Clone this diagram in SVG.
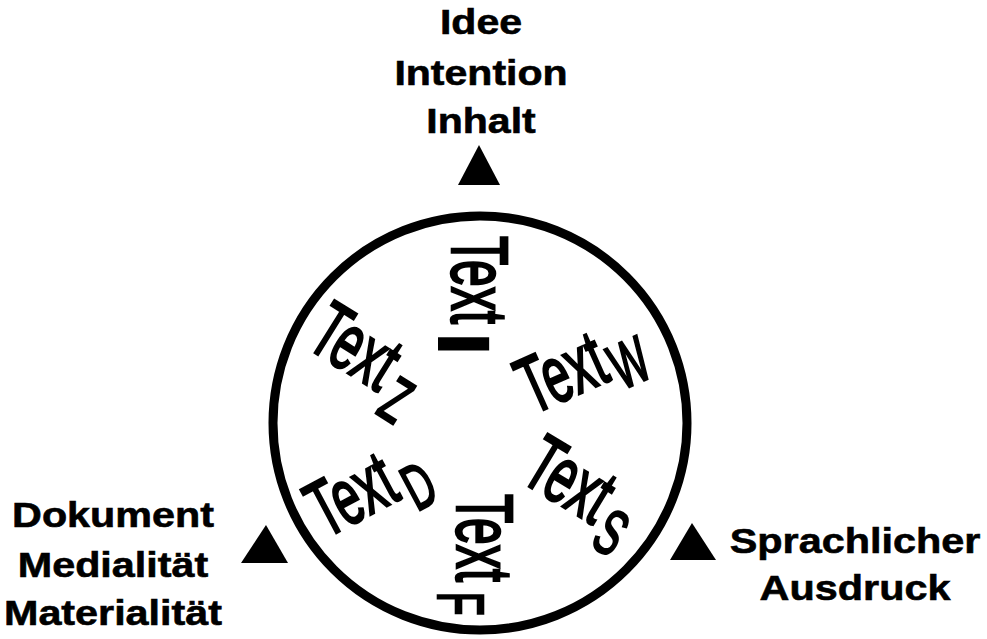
<svg xmlns="http://www.w3.org/2000/svg" width="987" height="639" viewBox="0 0 987 639">
<style>
.lbl{font-family:"Liberation Sans",Arial,sans-serif;font-weight:bold;font-size:36px;fill:#000;stroke:#000;stroke-width:0.6;text-anchor:middle}
.lblL{font-family:"Liberation Sans",Arial,sans-serif;font-weight:bold;font-size:35px;fill:#000;stroke:#000;stroke-width:0.6;text-anchor:middle}
.t{font-family:"Liberation Sans",Arial,sans-serif;font-size:80px;fill:#000;stroke:#000;stroke-width:2.6}
.s{font-family:"Liberation Sans",Arial,sans-serif;font-size:64px;fill:#000;stroke:#000;stroke-width:2.6}
.si{font-family:"Liberation Sans",Arial,sans-serif;font-weight:bold;font-size:75px;fill:#000}
.tri{fill:#000}
</style>
<rect width="987" height="639" fill="#fff"/>
<g id="circle">
<circle cx="480" cy="423" r="207" fill="none" stroke="#000" stroke-width="9"/>
</g>
<g id="connectors">
<polygon class="tri" points="458,185 500,185 479,145"/>
<polygon class="tri" points="241,563 288,563 266,525"/>
<polygon class="tri" points="670,560 716,560 692,523"/>
</g>
<g id="label-top">
<text class="lbl" transform="translate(481,34) scale(1.14,1)">Idee</text>
<text class="lbl" transform="translate(481,85) scale(1.14,1)">Intention</text>
<text class="lbl" transform="translate(481,133) scale(1.14,1)">Inhalt</text>
</g>
<g id="label-left">
<text class="lblL" transform="translate(113,527) scale(1.18,1)">Dokument</text>
<text class="lblL" transform="translate(113,577) scale(1.18,1)">Medialität</text>
<text class="lblL" transform="translate(113,625) scale(1.18,1)">Materialität</text>
</g>
<g id="label-right">
<text class="lbl" transform="translate(855,553) scale(1.15,1)">Sprachlicher</text>
<text class="lbl" transform="translate(855,600) scale(1.15,1)">Ausdruck</text>
</g>
<g id="text-i" transform="translate(452,236) rotate(90)">
<text class="t" transform="scale(0.6,1)">Text</text>
<text class="si" transform="translate(95,14) scale(1.24,1)">I</text>
</g>
<g id="text-w" transform="translate(532,415) rotate(-24)">
<text class="t" transform="scale(0.6,1)">Text</text>
<text class="s" transform="translate(92,14) scale(0.6,1)">W</text>
</g>
<g id="text-z" transform="translate(304,346) rotate(32)">
<text class="t" transform="scale(0.6,1)">Text</text>
<text class="s" transform="translate(95,19) scale(0.6,1)">Z</text>
</g>
<g id="text-d" transform="translate(325,539) rotate(-28)">
<text class="t" transform="scale(0.6,1)">Text</text>
<text class="s" transform="translate(94,19) scale(0.6,1)">D</text>
</g>
<g id="text-s" transform="translate(518,480) rotate(31)">
<text class="t" transform="scale(0.6,1)">Text</text>
<text class="s" transform="translate(94,19) scale(0.6,1)">S</text>
</g>
<g id="text-f" transform="translate(457,494) rotate(90)">
<text class="t" transform="scale(0.6,1)">Text</text>
<text class="s" transform="translate(98,19) scale(0.6,1)">F</text>
</g>
</svg>
